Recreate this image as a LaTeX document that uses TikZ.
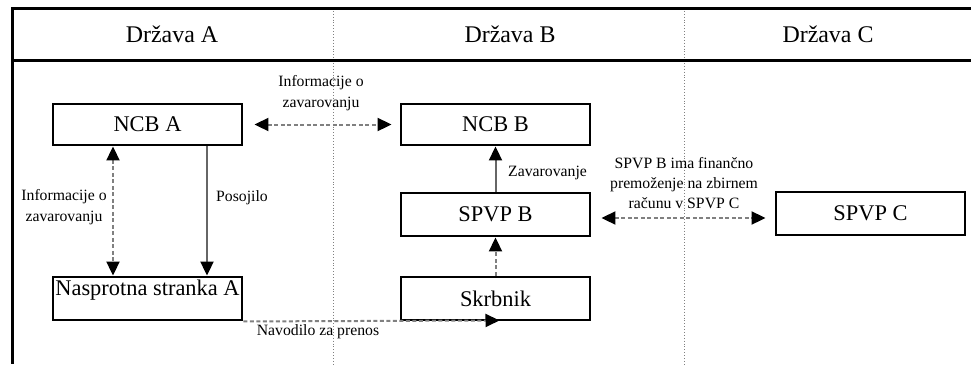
\documentclass[tikz,border=0pt]{standalone}
\usepackage{fontspec}
\setmainfont{Liberation Serif}
\usetikzlibrary{arrows.meta}
\begin{document}
\begin{tikzpicture}[x=1bp,y=-1bp,
  box/.style={draw=black,line width=2.9bp,minimum width=189bp,minimum height=43bp,inner sep=0pt,
    font=\fontsize{22.5}{24}\selectfont},
  head/.style={font=\fontsize{24}{26}\selectfont},
  lbl/.style={font=\fontsize{15.8}{20.5}\selectfont,align=center,inner sep=0pt},
  tip/.style={-{Triangle[length=14bp,width=13bp,color=black]}},
  bitip/.style={{Triangle[length=14bp,width=13bp,color=black]}-{Triangle[length=14bp,width=13bp,color=black]}},
  dconn/.style={draw=black!50,line width=2bp,dash pattern=on 4bp off 2.5bp},
  sconn/.style={draw=black!60,line width=2bp},
  divider/.style={draw=black!50,line width=0.9bp,dotted},
  frame/.style={draw=black,line width=3bp}
]
\useasboundingbox (0,0) rectangle (971,364);
% frame
\coordinate (tl) at (12,8);
\coordinate (tr) at (971,8);
\coordinate (hl) at (12,60);
\coordinate (hr) at (971,60);
\coordinate (bl) at (12,364);
\coordinate (d1t) at (333,8);
\coordinate (d1b) at (333,364);
\coordinate (d2t) at (684,8);
\coordinate (d2b) at (684,364);
\draw[divider] (d1t) -- (d1b);
\draw[divider] (d2t) -- (d2b);
\draw[frame] (tr) -- (tl) -- (bl);
\draw[frame] (hl) -- (hr);
% headers
\node[head] (hA) at (172,34) {Država A};
\node[head] (hB) at (510,34) {Država B};
\node[head] (hC) at (828,34) {Država C};
% boxes
\node[box,minimum height=41bp] (ncbA) at (147.5,124.5) {NCB A};
\node[box,minimum height=41bp] (ncbB) at (495.5,124.5) {NCB B};
\node[box] (spvpB) at (495.5,214.5) {SPVP B};
\node[box] (skr) at (495.5,298.5) {Skrbnik};
\node[box,text height=16bp,text depth=23bp,inner ysep=2bp,minimum height=0pt] (nasA) at (147.5,298.5) {Nasprotna stranka A};
\node[box] (spvpC) at (870.5,213.5) {SPVP C};
% connectors
\draw[dconn,bitip] ([xshift=11bp]ncbA.east) -- ([xshift=-8bp]ncbB.west);
\node[lbl] (l1) at (321,93) {Informacije o\\zavarovanju};
\draw[dconn,bitip] ([xshift=-34.5bp]ncbA.south) -- ([xshift=-34.5bp]nasA.north);
\node[lbl] (l2) at (64,207) {Informacije o\\zavarovanju};
\draw[sconn,tip] ([xshift=59.5bp]ncbA.south) -- ([xshift=59.5bp]nasA.north);
\node[lbl,anchor=west] (l3) at (216,198) {Posojilo};
\draw[sconn,tip] (spvpB.north) -- (ncbB.south);
\node[lbl,anchor=west] (l4) at (508,173) {Zavarovanje};
\draw[dconn,tip] (skr.north) -- (spvpB.south);
\draw[dconn,bitip] ([xshift=10bp,yshift=-3.5bp]spvpB.east) -- ([xshift=-9bp,yshift=-4.5bp]spvpC.west);
\node[lbl] (l5) at (684,183) {SPVP B ima finančno\\premoženje na zbirnem\\računu v SPVP C};
\draw[dconn,tip] (nasA.south east) -- ([xshift=4bp,yshift=1bp]skr.south);
\node[lbl] (l6) at (318,332) {Navodilo za prenos};
\end{tikzpicture}
\end{document}
